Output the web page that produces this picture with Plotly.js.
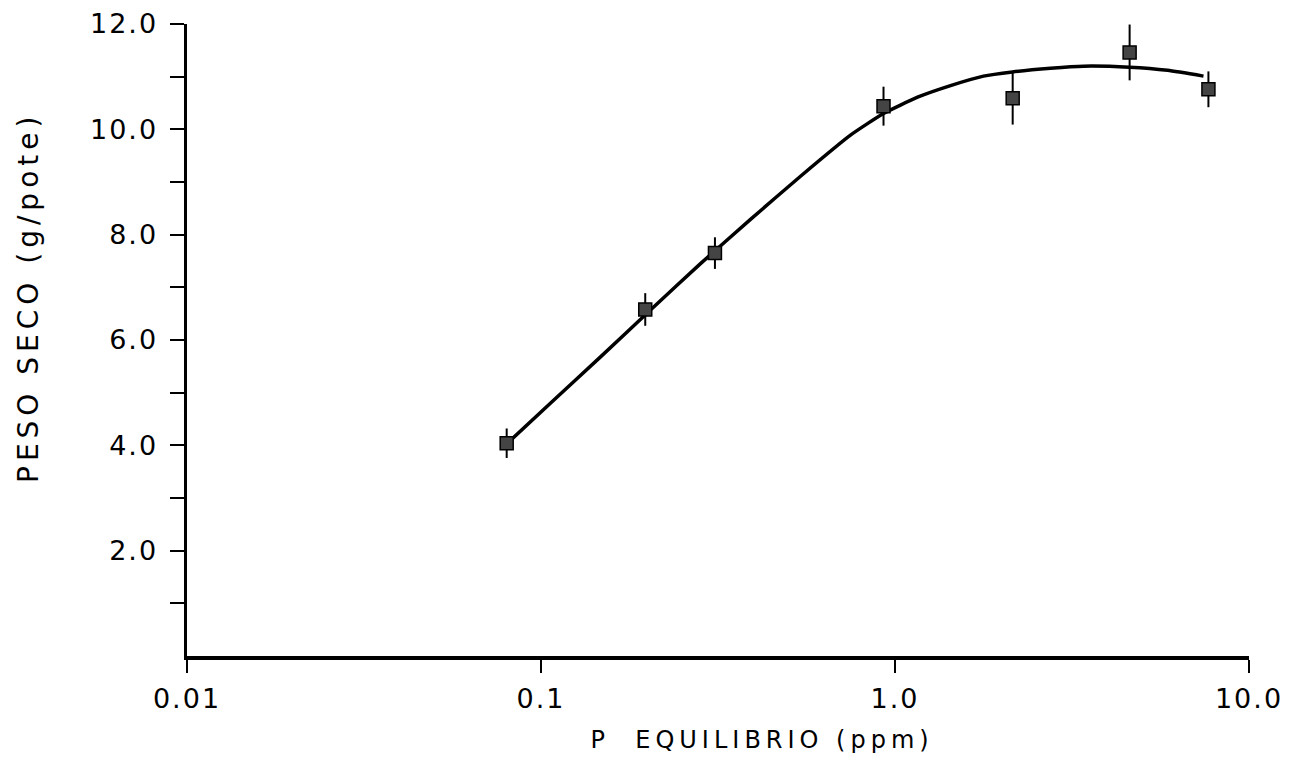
<!DOCTYPE html>
<html>
<head>
<meta charset="utf-8">
<script src="https://cdn.plot.ly/plotly-3.0.1.min.js"></script>
<style>
  html, body { margin: 0; padding: 0; background: #fff; }
  #chart { width: 1296px; height: 777px; }
  .main-svg .xtick text, .main-svg .ytick text { letter-spacing: 2px; }
  .main-svg .annotation-text { letter-spacing: 5px; }
</style>
</head>
<body>
<div id="chart"></div>
<script>
// Measured points (P equilibrio in ppm, dry weight g/pot, error half-width)
const pEquilibrio = [0.080, 0.197, 0.31, 0.928, 2.15, 4.60, 7.68];
const pesoSeco    = [4.04, 6.58, 7.65, 10.44, 10.59, 11.46, 10.76];
const erro        = [0.28, 0.31, 0.30, 0.37, 0.50, 0.53, 0.34];

// Fitted response curve
const curveX = [0.0804, 0.1063, 0.1473, 0.2038, 0.2822, 0.3907, 0.5410, 0.7486, 0.9279, 1.158, 1.435, 1.778, 2.147, 2.750, 3.408, 4.597, 5.886, 7.438];
const curveY = [4.04, 4.80, 5.68, 6.57, 7.45, 8.29, 9.11, 9.89, 10.30, 10.61, 10.83, 11.01, 11.09, 11.16, 11.20, 11.18, 11.12, 11.01];

// Axis ticks
const xTickVals = [0.01, 0.1, 1, 10];
const xTickText = ['0.01', '0.1', '1.0', '10.0'];
const yTickVals = [1, 2, 3, 4, 5, 6, 7, 8, 9, 10, 11, 12];
const yTickText = ['', '2.0', '', '4.0', '', '6.0', '', '8.0', '', '10.0', '', '12.0'];

const xTitle = 'P  EQUILIBRIO (ppm)';
const yTitle = 'PESO SECO (g/pote)';

const FONT = 'DejaVu Sans, Liberation Sans, sans-serif';

const traces = [
  {
    x: curveX, y: curveY, type: 'scatter', mode: 'lines',
    line: { color: '#000', width: 3.5, shape: 'spline', smoothing: 0.5 },
    hoverinfo: 'skip', showlegend: false
  },
  {
    x: pEquilibrio, y: pesoSeco, type: 'scatter', mode: 'markers',
    marker: { symbol: 'square', size: 13, color: '#444', line: { color: '#000', width: 1.5 } },
    error_y: { type: 'data', array: erro, visible: true, color: '#000', thickness: 2, width: 0 },
    showlegend: false
  }
];

const L = 187, R = 1249, T = 24, B = 656;

const layout = {
  width: 1296, height: 777,
  margin: { l: L, r: 1296 - R, t: T, b: 777 - B },
  paper_bgcolor: '#fff', plot_bgcolor: '#fff',
  font: { family: FONT, color: '#000', size: 26 },
  showlegend: false,
  xaxis: {
    type: 'log', range: [-2, 1],
    tickmode: 'array', tickvals: xTickVals, ticktext: xTickText,
    ticks: 'outside', ticklen: 13, tickwidth: 2, tickcolor: '#000',
    showline: true, linecolor: '#000', linewidth: 3.5,
    showgrid: false, zeroline: false,
    tickfont: { family: FONT, size: 27, color: '#000' },
    ticklabelstandoff: 3
  },
  yaxis: {
    range: [0, 12],
    tickmode: 'array', tickvals: yTickVals, ticktext: yTickText,
    ticks: 'outside', ticklen: 14, tickwidth: 2, tickcolor: '#000',
    showline: true, linecolor: '#000', linewidth: 3.5,
    showgrid: false, zeroline: false,
    tickfont: { family: FONT, size: 27, color: '#000' },
    ticklabelstandoff: 6
  },
  annotations: [
    {
      text: xTitle, xref: 'paper', yref: 'paper',
      x: (762 - L) / (R - L), y: -(740 - B) / (B - T),
      xanchor: 'center', yanchor: 'middle', showarrow: false,
      font: { family: FONT, size: 24, color: '#000' }
    },
    {
      text: yTitle, xref: 'paper', yref: 'paper', textangle: -90,
      x: -(L - 28) / (R - L), y: (B - 298) / (B - T),
      xanchor: 'center', yanchor: 'middle', showarrow: false,
      font: { family: FONT, size: 28, color: '#000' }
    }
  ]
};

Plotly.newPlot('chart', traces, layout, { displayModeBar: false, staticPlot: true });
</script>
</body>
</html>
